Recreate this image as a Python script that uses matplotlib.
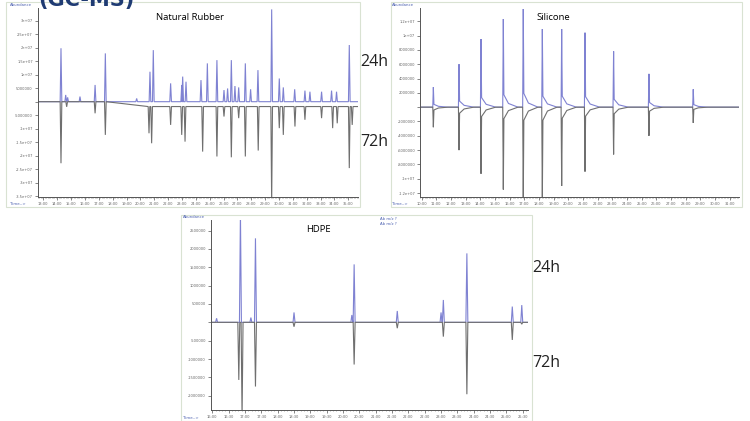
import matplotlib.pyplot as plt
from matplotlib.patches import Rectangle
from matplotlib.ticker import MultipleLocator

# ---- data (time in min, abundance in millions) ----
# Natural Rubber
nr_t24 = [14.27, 14.61, 14.75, 15.64, 16.73, 17.47, 19.73, 20.69, 20.93, 22.18, 22.98, 23.05,
          23.29, 24.37, 24.83, 25.52, 26.03, 26.29, 26.56, 26.82, 27.09, 27.57, 27.95, 28.48,
          29.47, 30.02, 30.31, 31.13, 31.87, 32.23, 33.07, 33.79, 34.15, 35.07]
nr_h24 = [19.8, 2.5, 1.6, 1.9, 6.2, 17.9, 1.2, 11.1, 19.1, 6.8, 6.2, 9.3,
          7.4, 8.0, 14.2, 15.4, 4.3, 4.9, 15.4, 5.8, 5.3, 14.2, 4.6, 11.7,
          34.2, 8.6, 5.3, 4.6, 4.1, 3.7, 3.7, 4.1, 3.7, 21.0]
nr_t72 = [14.27, 14.68, 16.73, 17.47, 20.62, 20.81, 22.18, 22.98, 23.22, 24.49, 25.52, 26.03,
          26.56, 27.09, 27.57, 28.50, 29.47, 30.02, 30.31, 31.15, 31.87, 33.07, 33.87, 34.20,
          35.07, 35.28]
nr_h72 = [22.8, 1.9, 4.3, 12.3, 9.9, 13.6, 6.8, 10.5, 13.0, 16.7, 18.5, 3.7,
          18.8, 4.3, 18.5, 16.3, 36.0, 8.0, 10.5, 7.4, 4.9, 4.3, 8.0, 6.2,
          22.8, 6.8]

# Silicone
si_t = [10.80, 12.55, 14.05, 15.57, 16.93, 18.23, 19.55, 21.14, 23.09, 25.50, 28.52]
si_h24 = [2.8, 6.0, 9.5, 12.3, 13.7, 10.9, 10.9, 10.4, 7.8, 4.65, 2.5]
si_h72 = [2.8, 6.0, 9.3, 11.5, 13.0, 13.0, 11.0, 9.0, 6.6, 4.0, 2.2]

# HDPE
hd_t24 = [16.13, 16.86, 17.18, 17.32, 18.50, 20.27, 20.34, 21.66, 23.00, 23.07, 23.79, 25.18, 25.47]
hd_h24 = [0.11, 3.0, 0.13, 2.29, 0.27, 0.20, 1.58, 0.31, 0.27, 0.61, 1.88, 0.43, 0.47]
hd_t72 = [16.81, 16.91, 17.32, 18.50, 20.34, 21.66, 23.07, 23.79, 25.18, 25.47]
hd_h72 = [1.57, 2.6, 1.75, 0.12, 1.15, 0.16, 0.39, 1.96, 0.48, 0.05]

BLUE = '#7f82d2'
GREY = '#6f6f6f'
FRAME = '#d9e2d2'


def trace(ax, t, h, sign, base, w, color, tail=0.0, tw=0.0, x0=0, x1=1):
    xs, ys = [x0], [base(x0)]
    for ti, hi in sorted(zip(t, h)):
        b = base(ti)
        xs += [ti - w, ti, ti + w]
        ys += [b, b + sign * hi, b + sign * hi * tail]
        if tw > 0:
            xs += [ti + tw * 0.35, ti + tw]
            ys += [b + sign * hi * tail * 0.3, b]
    xs.append(x1)
    ys.append(base(x1))
    ax.plot(xs, ys, color=color, lw=0.8, solid_joinstyle='miter')


def style(ax, xlim, ylim, ystep, yfmt):
    ax.set_xlim(*xlim)
    ax.set_ylim(*ylim)
    for s in ['top', 'right']:
        ax.spines[s].set_visible(False)
    for s in ['left', 'bottom']:
        ax.spines[s].set_color('#555555')
        ax.spines[s].set_linewidth(0.7)
    ax.set_facecolor('white')
    ax.xaxis.set_major_locator(MultipleLocator(1 if xlim[1] - xlim[0] > 15 else 0.5))
    ax.xaxis.set_minor_locator(MultipleLocator(0.1))
    ax.yaxis.set_major_locator(MultipleLocator(ystep))
    ax.tick_params(axis='both', which='major', labelsize=2.6, labelcolor='#666666',
                   length=2, width=0.5, color='#555555', pad=1.5)
    ax.tick_params(axis='x', which='minor', length=1, width=0.4, color='#777777')
    ax.xaxis.set_major_formatter(plt.FuncFormatter(lambda v, p: '%d:%02d' % (int(v), round((v % 1) * 60))))
    ax.yaxis.set_major_formatter(plt.FuncFormatter(yfmt))


def fmt_abund(v, p):
    val = v * 1e6
    if abs(val) < 1:
        return ''
    if abs(val) >= 1e7:
        return ('%g' % (val / 1e7)) + 'e+07'
    return '%d' % val


fig = plt.figure(figsize=(7.5, 4.21), dpi=100)
W, H = 750, 421


def frame(x0, y0, x1, y1):
    fig.patches.append(Rectangle((x0 / W, 1 - y1 / H), (x1 - x0) / W, (y1 - y0) / H,
                                 transform=fig.transFigure, fill=False,
                                 edgecolor=FRAME, lw=0.8))


def small(x, y, s):
    fig.text(x / W, 1 - y / H, s, fontsize=2.8, color='#4a5fb0', va='center')


# heading of the slide, cut off at the top edge like in the source
fig.text(38 / W, 1 - 6 / H, '(GC-MS)', fontsize=15, color='#1f3b73', fontweight='bold', va='baseline')

# ---- Natural Rubber ----
frame(6, 2, 360, 207)
ax1 = fig.add_axes([37.7 / W, 1 - 196.7 / H, 320.6 / W, 188.4 / H])
nr_x = (12.59, 35.72)
trace(ax1, nr_t24, nr_h24, 1, lambda t: 0.0, 0.06, BLUE, x0=nr_x[0], x1=nr_x[1])
trace(ax1, nr_t72, nr_h72, -1, lambda t: 0.0 if t < 20.5 else -1.8, 0.06, GREY,
      x0=nr_x[0], x1=nr_x[1])
style(ax1, nr_x, (-35.2, 34.6), 5, fmt_abund)
fig.text(190 / W, 1 - 17 / H, 'Natural Rubber', fontsize=6.8, family='Open Sans', ha='center', va='center')
small(10, 5, 'Abundance')
small(10, 204, 'Time-->')

# ---- Silicone ----
frame(391, 2, 742, 207)
ax2 = fig.add_axes([420 / W, 1 - 196.7 / H, 319.3 / W, 188.4 / H])
si_x = (9.89, 31.66)
trace(ax2, si_t, si_h24, 1, lambda t: 0.0, 0.04, BLUE, tail=0.14, tw=1.0, x0=si_x[0], x1=si_x[1])
trace(ax2, si_t, si_h72, -1, lambda t: 0.0, 0.04, GREY, tail=0.14, tw=1.0, x0=si_x[0], x1=si_x[1])
style(ax2, si_x, (-12.5, 13.8), 2, fmt_abund)
fig.text(553 / W, 1 - 18 / H, 'Silicone', fontsize=6.8, family='Open Sans', ha='center', va='center')
small(392, 5, 'Abundance')
small(392, 204, 'Time-->')

# ---- HDPE ----
frame(181, 215, 532, 421)
ax3 = fig.add_axes([210.7 / W, 1 - 410 / H, 317.6 / W, 190 / H])
hd_x = (15.95, 25.67)
trace(ax3, hd_t24, hd_h24, 1, lambda t: 0.0, 0.03, BLUE, x0=hd_x[0], x1=hd_x[1])
trace(ax3, hd_t72, hd_h72, -1, lambda t: 0.0, 0.03, GREY, x0=hd_x[0], x1=hd_x[1])
style(ax3, hd_x, (-2.39, 2.79), 0.5, fmt_abund)
fig.text(318 / W, 1 - 229 / H, 'HDPE', fontsize=6.8, family='Open Sans', ha='center', va='center')
small(183, 217, 'Abundance')
small(183, 418, 'Time-->')
small(380, 219, 'Ab m/z ?')
small(380, 224, 'Ab m/z ?')

# ---- sample labels ----
for x, y, s in [(360, 62, '24h'), (360, 142, '72h'), (532, 268, '24h'), (532, 363, '72h')]:
    fig.text(x / W, 1 - y / H, s, fontsize=11.5, family='Open Sans', va='center', color='#222222')

fig.savefig('out.png', dpi=100)
